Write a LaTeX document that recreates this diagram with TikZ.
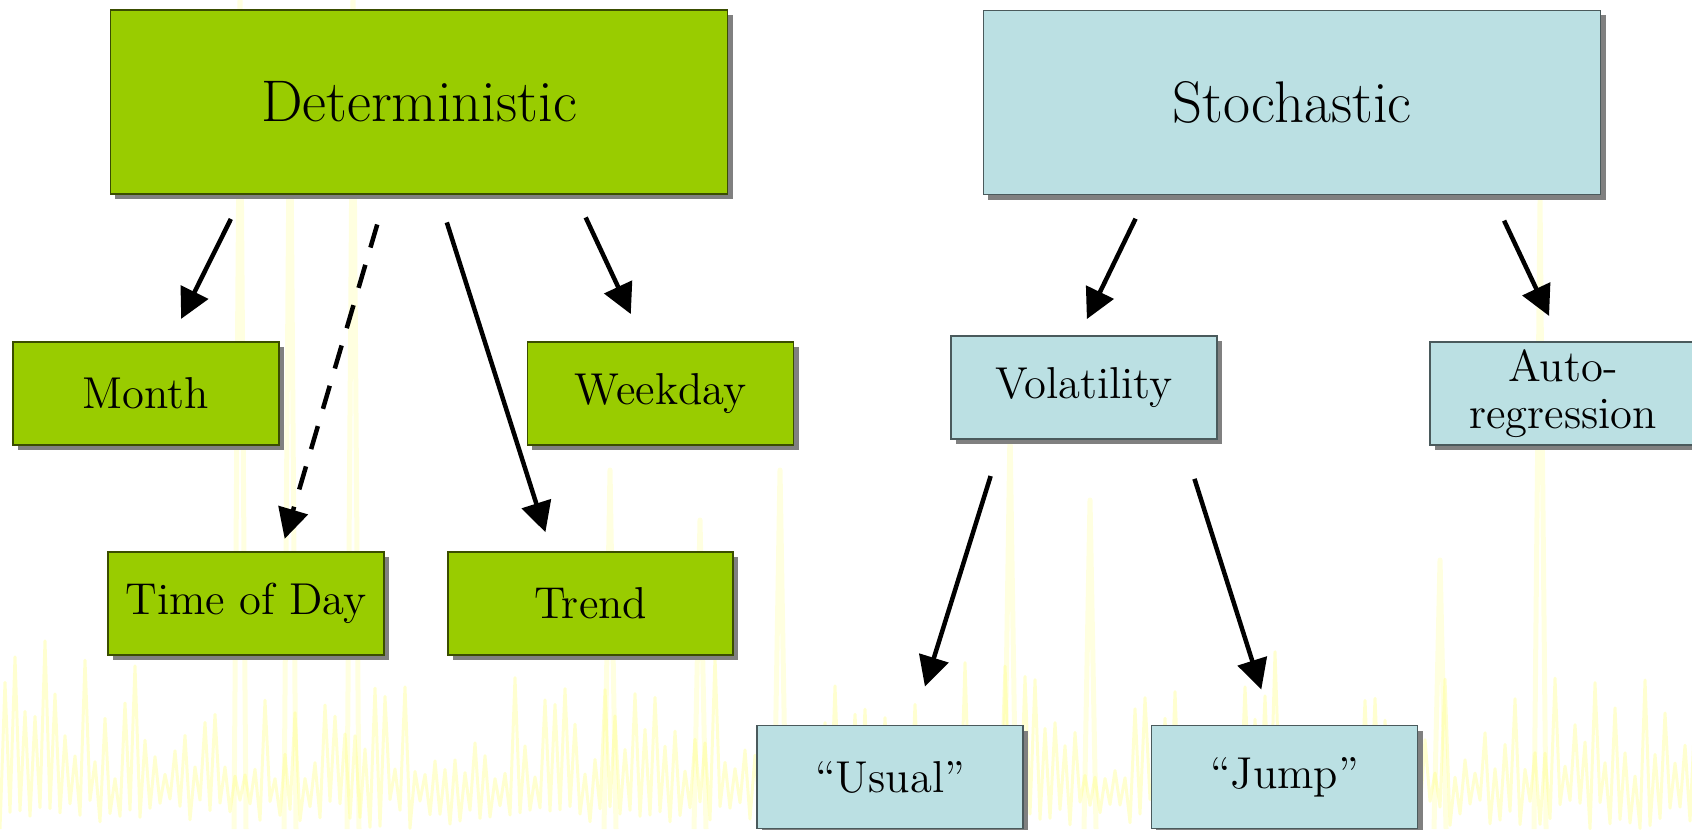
\documentclass[tikz,border=0pt]{standalone}
\usetikzlibrary{arrows.meta,shadows}

\definecolor{detgreen}{HTML}{99CC00}
\definecolor{stoblue}{HTML}{BBE0E3}
\definecolor{detline}{HTML}{3A4D00}
\definecolor{stoline}{HTML}{4A5A5C}
\definecolor{traceyellow}{HTML}{FFFF66}

\tikzset{
    shadowbox/.style={rectangle, inner sep=2pt, align=center, line width=0.4pt,
        drop shadow={shadow xshift=0.05cm, shadow yshift=-0.05cm, fill=black!50, opacity=1}},
    bigbox/.style={shadowbox, minimum width=6.17cm, minimum height=1.84cm,
        font=\fontsize{16.7}{19}\selectfont},
    smallbox/.style={shadowbox, minimum width=2.66cm, minimum height=1.03cm,
        font=\fontsize{12.7}{13.5}\selectfont},
    detfill/.style={fill=detgreen, draw=detline},
    stofill/.style={fill=stoblue, draw=stoline},
    link/.style={-{Triangle[length=0.3cm,width=0.3cm]}, line width=0.045cm},
    bgtrace/.style={draw=traceyellow, line width=0.03cm, opacity=0.3, line join=round},
}

\begin{document}
\begin{tikzpicture}[x=0.01cm, y=-0.01cm]
        \useasboundingbox (0,0) rectangle (1692,829);
        \fill[white] (0,0) rectangle (1692,829);

        % faint series in the background
        \pgfmathsetseed{3}
        \draw[bgtrace] (0,829) \foreach \k in {1,...,170} {
            -- ({\k*10-5},{829-50-160*rnd*rnd}) -- ({\k*10},{829-30*rnd}) };
        \foreach \sx/\sy in {240/0, 290/20, 353/0, 610/470, 700/520, 780/470,
                             1010/430, 1090/500, 1440/560, 1540/200} {
            \draw[bgtrace, line width=0.05cm, opacity=0.2] (\sx-6,829) -- (\sx,\sy) -- (\sx+6,829);
        }

        % the two families
        \node[bigbox, detfill] (deterministic) at (419,102) {Deterministic};
        \node[bigbox, stofill] (stochastic) at (1292,102.5) {Stochastic};

        % deterministic parts
        \node[smallbox, detfill] (month) at (146,393.5) {Month};
        \node[smallbox, detfill] (weekday) at (660.5,393.5) {Weekday};
        \node[smallbox, detfill, minimum width=2.76cm] (timeofday) at (246,603.5) {Time of Day};
        \node[smallbox, detfill, minimum width=2.85cm] (trend) at (590.5,603.5) {Trend};

        % stochastic parts
        \node[smallbox, stofill] (volatility) at (1084,387.5) {Volatility};
        \node[smallbox, stofill] (autoreg) at (1563,393.5) {Auto-\\regression};
        \node[smallbox, stofill] (usual) at (890,777) {“Usual”};
        \node[smallbox, stofill] (jump) at (1284.5,777) {“Jump”};

        \draw[link, shorten <=0.27cm, shorten >=0.25cm] ([xshift=-1.76cm]deterministic.south) -- ([xshift=0.24cm]month.north);
        \draw[link, dash pattern=on 0.24cm off 0.18cm, shorten <=0.31cm, shorten >=0.13cm] ([xshift=-0.33cm]deterministic.south) -- ([xshift=0.35cm]timeofday.north);
        \draw[link, shorten <=0.29cm, shorten >=0.20cm] ([xshift=0.19cm]deterministic.south) -- ([xshift=-0.39cm]trend.north);
        \draw[link, shorten <=0.25cm, shorten >=0.30cm] ([xshift=1.56cm]deterministic.south) -- ([xshift=-0.17cm]weekday.north);

        \draw[link, shorten <=0.26cm, shorten >=0.18cm] ([xshift=-1.45cm]stochastic.south) -- ([xshift=-0.05cm]volatility.north);
        \draw[link, shorten <=0.28cm, shorten >=0.28cm] ([xshift=2.0cm]stochastic.south) -- ([xshift=-0.02cm]autoreg.north);
        \draw[link, shorten <=0.38cm, shorten >=0.40cm] ([xshift=-0.82cm]volatility.south) -- ([xshift=0.23cm]usual.north);
        \draw[link, shorten <=0.41cm, shorten >=0.37cm] ([xshift=0.98cm]volatility.south) -- ([xshift=-0.12cm]jump.north);
    \end{tikzpicture}
\end{document}
